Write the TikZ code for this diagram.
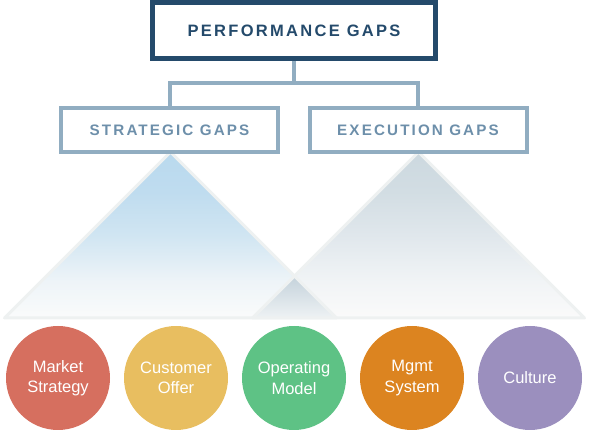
\documentclass[tikz,border=0pt]{standalone}
\usepackage{fontspec}
\setmainfont{Liberation Sans}
\newfontfamily\trk[LetterSpace=14]{Liberation Sans}
\usetikzlibrary{shapes.geometric}
\definecolor{navy}{HTML}{244A6B}
\definecolor{steel}{HTML}{91ADC1}
\definecolor{steeltext}{HTML}{6D8FAA}
\definecolor{triline}{HTML}{EEF1F1}
\definecolor{cred}{HTML}{D66F5F}
\definecolor{cyel}{HTML}{E8BE60}
\definecolor{cgrn}{HTML}{5EC285}
\definecolor{corg}{HTML}{DC8420}
\definecolor{cpur}{HTML}{9B8FBE}
\definecolor{lbot}{HTML}{FAFBFB}
\definecolor{lb1}{HTML}{EEF4F8}
\definecolor{lb2}{HTML}{D0E5F2}
\definecolor{lb3}{HTML}{BFDCEF}
\definecolor{ltop}{HTML}{B9D9EE}
\definecolor{rbot}{HTML}{FAFAFA}
\definecolor{rb1}{HTML}{F1F4F6}
\definecolor{rb2}{HTML}{E0E7EC}
\definecolor{rb3}{HTML}{D2DDE3}
\definecolor{rtop}{HTML}{CCD8DF}
\definecolor{otop}{HTML}{C4D2DB}
\definecolor{obot}{HTML}{EEF2F4}
\pgfdeclareverticalshading{lshade}{100bp}{color(0bp)=(lbot); color(25bp)=(lbot); color(36bp)=(lb1); color(50bp)=(lb2); color(63bp)=(lb3); color(75bp)=(ltop); color(100bp)=(ltop)}
\pgfdeclareverticalshading{rshade}{100bp}{color(0bp)=(rbot); color(25bp)=(rbot); color(36bp)=(rb1); color(50bp)=(rb2); color(63bp)=(rb3); color(75bp)=(rtop); color(100bp)=(rtop)}
\pgfdeclarelayer{background}
\pgfsetlayers{background,main}
\begin{document}
\begin{tikzpicture}[x=1pt,y=-1pt,
  hdr/.style={draw=navy, line width=5pt, text=navy, minimum width=283pt, minimum height=56pt, inner sep=0pt,
    font=\trk\bfseries\fontsize{16.5}{18}\selectfont},
  sub/.style={draw=steel, line width=4pt, text=steeltext, minimum width=217pt, minimum height=44pt, inner sep=0pt,
    font=\trk\bfseries\fontsize{15.2}{18}\selectfont},
  conn/.style={draw=steel, line width=4pt},
  tri/.style={draw=triline, line width=3pt, line join=round},
  circ/.style={circle, minimum size=104pt, inner sep=0pt, text=white, align=center,
    font=\fontsize{16.5}{20.5}\selectfont}
]
\useasboundingbox (0,0) rectangle (589,430);

\node[hdr] (perf) at (294,30.5) {PERFORMANCE GAPS};
\node[sub] (strat) at (169.5,130) {STRATEGIC GAPS};
\node[sub] (exec) at (418,130) {EXECUTION GAPS};

\coordinate (j) at (294,83.5);
\draw[conn] (perf.south) -- (j);
\draw[conn] (strat.north) |- (j) -| (exec.north);

\begin{pgfonlayer}{background}
  \shade[shading=lshade] (170.5,152) -- (4.5,318) -- (336.5,318) -- cycle;
  \shade[shading=rshade] (418.5,152) -- (252.5,318) -- (584.5,318) -- cycle;
  \shade[top color=otop, bottom color=obot] (294.5,276) -- (252.5,318) -- (336.5,318) -- cycle;
  \draw[tri] (170.5,152) -- (4.5,318) -- (336.5,318) -- cycle;
  \draw[tri] (418.5,152) -- (252.5,318) -- (584.5,318) -- cycle;
\end{pgfonlayer}

\node[circ, fill=cred] (c1) at (58,378) {Market\\Strategy};
\node[circ, fill=cyel] (c2) at (176,378) {Customer\\Offer};
\node[circ, fill=cgrn] (c3) at (294,378) {Operating\\Model};
\node[circ, fill=corg] (c4) at (412,378) {Mgmt\\System};
\node[circ, fill=cpur] (c5) at (530,378) {Culture};
\end{tikzpicture}
\end{document}
